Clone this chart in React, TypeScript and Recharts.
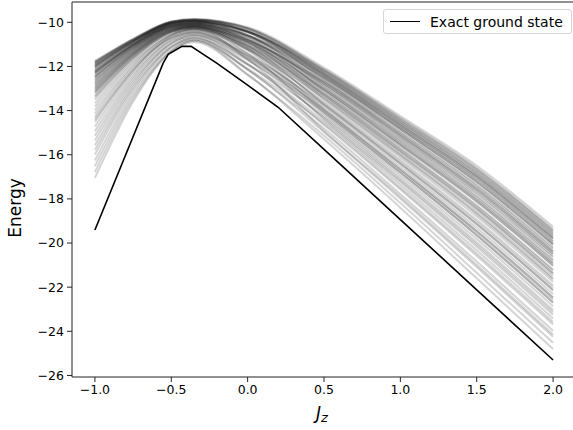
import { Label, Legend, Line, LineChart, ReferenceLine, XAxis, YAxis } from "recharts";

// coupling values where the sampled (gray) energies were read
const jzGrid = [-1, -0.75, -0.5, -0.35, 0, 0.5, 1, 1.5, 2];

const sampledEnergies: number[][] = [
  [-11.75, -10.75, -9.96, -9.87, -10.22, -12.05, -14.25, -16.5, -19.26],
  [-11.8, -10.78, -9.96, -9.85, -10.26, -12.21, -14.46, -16.76, -19.54],
  [-11.86, -10.81, -10.01, -9.92, -10.29, -12.12, -14.33, -16.6, -19.37],
  [-11.91, -10.84, -10.0, -9.89, -10.36, -12.38, -14.67, -17.01, -19.81],
  [-11.96, -10.86, -10.05, -9.96, -10.4, -12.28, -14.54, -16.86, -19.65],
  [-12.02, -10.89, -10.04, -9.94, -10.46, -12.54, -14.87, -17.27, -20.09],
  [-12.07, -10.92, -10.1, -10.0, -10.41, -12.18, -14.42, -16.7, -19.48],
  [-12.17, -10.98, -10.04, -9.91, -10.4, -12.44, -14.75, -17.11, -19.93],
  [-12.23, -11.01, -10.15, -10.05, -10.64, -12.7, -15.08, -17.52, -20.37],
  [-12.28, -11.04, -10.11, -9.98, -10.44, -12.34, -14.62, -16.96, -19.76],
  [-12.33, -11.06, -10.19, -10.09, -10.74, -12.86, -15.29, -17.78, -20.65],
  [-12.44, -11.12, -10.16, -10.03, -10.59, -12.64, -15.0, -17.42, -20.26],
  [-12.49, -11.15, -10.24, -10.14, -10.66, -12.51, -14.83, -17.21, -20.04],
  [-12.6, -11.21, -10.21, -10.07, -10.78, -13.03, -15.5, -18.03, -20.92],
  [-12.7, -11.26, -10.3, -10.18, -10.8, -12.77, -15.16, -17.62, -20.48],
  [-12.81, -11.32, -10.27, -10.11, -10.88, -13.19, -15.7, -18.29, -21.2],
  [-12.92, -11.38, -10.36, -10.22, -10.91, -12.96, -15.41, -17.93, -20.81],
  [-13.02, -11.43, -10.33, -10.16, -10.98, -13.35, -15.91, -18.54, -21.48],
  [-13.13, -11.49, -10.41, -10.27, -11.01, -13.09, -15.58, -18.13, -21.03],
  [-13.23, -11.55, -10.39, -10.2, -11.09, -13.51, -16.12, -18.8, -21.75],
  [-13.34, -11.61, -10.47, -10.31, -11.12, -13.29, -15.83, -18.44, -21.37],
  [-13.5, -11.69, -10.45, -10.25, -11.19, -13.68, -16.33, -19.05, -22.03],
  [-13.66, -11.78, -10.54, -10.36, -11.21, -13.42, -15.99, -18.64, -21.59],
  [-13.82, -11.86, -10.6, -10.4, -11.41, -13.84, -16.53, -19.31, -22.31],
  [-13.98, -11.95, -10.57, -10.33, -11.26, -13.61, -16.24, -18.95, -21.92],
  [-14.14, -12.03, -10.68, -10.46, -11.52, -14.0, -16.74, -19.56, -22.58],
  [-14.29, -12.12, -10.73, -10.51, -11.49, -13.74, -16.41, -19.15, -22.14],
  [-14.51, -12.23, -10.7, -10.42, -11.55, -14.16, -16.95, -19.82, -22.86],
  [-14.72, -12.35, -10.83, -10.57, -11.61, -13.94, -16.66, -19.46, -22.47],
  [-14.93, -12.46, -10.81, -10.49, -11.67, -14.33, -17.16, -20.07, -23.14],
  [-15.14, -12.57, -10.92, -10.62, -11.72, -14.07, -16.82, -19.66, -22.7],
  [-15.35, -12.69, -10.99, -10.68, -11.93, -14.49, -17.36, -20.33, -23.42],
  [-15.57, -12.8, -10.95, -10.58, -11.88, -14.65, -17.57, -20.58, -23.69],
  [-15.78, -12.92, -11.08, -10.73, -11.9, -14.26, -17.07, -19.97, -23.03],
  [-15.99, -13.03, -11.15, -10.79, -12.16, -14.81, -17.78, -20.84, -23.97],
  [-16.26, -13.17, -11.13, -10.71, -12.13, -14.98, -17.99, -21.09, -24.25],
  [-16.52, -13.32, -11.26, -10.84, -12.1, -14.59, -17.49, -20.48, -23.58],
  [-16.79, -13.46, -11.33, -10.9, -12.39, -15.14, -18.19, -21.35, -24.52],
  [-17.05, -13.6, -11.31, -10.82, -12.36, -15.3, -18.4, -21.6, -24.8],
  [-14.4, -12.18, -10.6, -10.29, -11.67, -14.91, -17.9, -20.99, -24.14],
  [-11.78, -10.76, -9.98, -9.88, -10.27, -12.15, -14.37, -16.65, -19.43],
  [-11.83, -10.79, -9.97, -9.86, -10.3, -12.31, -14.58, -16.91, -19.7],
  [-11.88, -10.82, -10.03, -9.94, -10.43, -12.44, -14.75, -17.11, -19.92],
  [-11.94, -10.85, -9.99, -9.87, -10.42, -12.6, -14.96, -17.37, -20.2],
  [-11.99, -10.88, -10.07, -9.98, -10.59, -12.77, -15.16, -17.62, -20.48],
  [-12.04, -10.91, -10.03, -9.92, -10.58, -12.93, -15.37, -17.88, -20.76],
  [-12.12, -10.95, -10.11, -10.02, -10.44, -12.25, -14.5, -16.81, -19.59],
  [-12.2, -10.99, -10.08, -9.96, -10.68, -13.09, -15.58, -18.13, -21.03],
  [-12.25, -11.02, -10.16, -10.07, -10.59, -12.51, -14.83, -17.21, -20.04],
  [-12.31, -11.05, -10.13, -10.0, -10.8, -13.29, -15.83, -18.44, -21.37],
  [-12.39, -11.09, -10.21, -10.11, -10.59, -12.38, -14.67, -17.01, -19.81],
  [-12.47, -11.13, -10.18, -10.05, -10.9, -13.45, -16.03, -18.69, -21.64],
  [-12.55, -11.18, -10.26, -10.16, -10.8, -12.83, -15.25, -17.72, -20.59],
  [-12.65, -11.23, -10.23, -10.09, -11.05, -13.74, -16.41, -19.15, -22.14],
  [-12.76, -11.29, -10.32, -10.2, -10.91, -13.03, -15.5, -18.03, -20.92],
  [-12.86, -11.35, -10.29, -10.14, -11.17, -13.94, -16.66, -19.46, -22.47],
  [-12.97, -11.41, -10.38, -10.25, -10.84, -12.7, -15.08, -17.52, -20.37],
  [-13.08, -11.46, -10.35, -10.18, -11.26, -14.07, -16.82, -19.66, -22.7],
  [-13.18, -11.52, -10.44, -10.29, -11.07, -13.22, -15.74, -18.34, -21.25],
  [-13.39, -11.63, -10.42, -10.22, -11.42, -14.39, -17.24, -20.17, -23.25],
];

// exact ground state (black line)
const exactJz = [-1, -0.553, -0.52, -0.43, -0.37, -0.2, 0, 0.2, 0.6, 1, 1.5, 2];
const exactEnergy = [-19.41, -11.85, -11.45, -11.09, -11.09, -11.86, -12.85, -13.85, -16.39, -18.94, -22.12, -25.3];

const xTicks = [-1, -0.5, 0, 0.5, 1, 1.5, 2];
const yTicks = [-26, -24, -22, -20, -18, -16, -14, -12, -10];

const X_DOMAIN: [number, number] = [-1.15, 2.15];
const Y_DOMAIN: [number, number] = [-26.07, -9.08];
const FONT = "DejaVu Sans, sans-serif";
const AXIS = "#222";

const minus = (s: string) => s.replace("-", "\u2212");

const sampledSeries = sampledEnergies.map((row) =>
  jzGrid.map((jz, i) => ({ jz, energy: row[i] }))
);
const exactSeries = exactJz.map((jz, i) => ({ jz, energy: exactEnergy[i] }));

function LegendBox() {
  return (
    <div
      style={{
        boxSizing: "border-box",
        width: 189,
        height: 25,
        border: "1px solid #d6d6d6",
        borderRadius: 3,
        background: "rgba(255,255,255,0.85)",
        display: "flex",
        alignItems: "center",
        fontFamily: FONT,
        fontSize: 14,
        color: "#000",
      }}
    >
      <span style={{ display: "inline-block", width: 30, height: 0, borderTop: "1.5px solid #000", marginLeft: 6, marginRight: 10 }} />
      <span>Exact ground state</span>
    </div>
  );
}

export default function App() {
  return (
    <div style={{ position: "absolute", left: 0, top: 0, width: 573, height: 430, overflow: "hidden", background: "#fff" }}>
      <LineChart width={577} height={430} margin={{ top: 2, right: 1, bottom: 0, left: 0 }}>
        <XAxis
          dataKey="jz"
          type="number"
          domain={X_DOMAIN}
          ticks={xTicks}
          allowDataOverflow
          height={53}
          tickSize={5}
          tickMargin={3}
          stroke={AXIS}
          tick={{ fill: "#000", fontSize: 12.5, fontFamily: FONT }}
          tickFormatter={(v: number) => minus(v.toFixed(1))}
          label={
            <Label
              content={() => (
                <text x={322} y={419} textAnchor="middle" fontFamily={FONT} fontStyle="italic" fontSize={17} fill="#000">
                  J<tspan fontSize={13} dy={3}>z</tspan>
                </text>
              )}
            />
          }
        />
        <YAxis
          type="number"
          domain={Y_DOMAIN}
          ticks={yTicks}
          allowDataOverflow
          width={72}
          tickSize={5}
          tickMargin={3}
          stroke={AXIS}
          tick={{ fill: "#000", fontSize: 12.5, fontFamily: FONT }}
          tickFormatter={(v: number) => minus(String(v))}
          label={
            <Label
              content={() => (
                <text
                  x={21}
                  y={208}
                  transform="rotate(-90 21 208)"
                  textAnchor="middle"
                  fontFamily={FONT}
                  fontSize={17}
                  fill="#000"
                >
                  Energy
                </text>
              )}
            />
          }
        />
        <ReferenceLine y={Y_DOMAIN[1]} stroke={AXIS} strokeWidth={1} />
        {sampledSeries.map((data, i) => (
          <Line
            key={i}
            data={data}
            dataKey="energy"
            type="monotone"
            stroke="#000"
            strokeOpacity={0.17}
            strokeWidth={2}
            dot={false}
            activeDot={false}
            legendType="none"
            isAnimationActive={false}
          />
        ))}
        <Line
          data={exactSeries}
          dataKey="energy"
          name="Exact ground state"
          type="linear"
          stroke="#000"
          strokeWidth={1.6}
          dot={false}
          activeDot={false}
          isAnimationActive={false}
        />
        <Legend
          layout="vertical"
          align="center"
          verticalAlign="middle"
          wrapperStyle={{ left: 383, top: 9, width: 189, height: 25 }}
          content={() => <LegendBox />}
        />
      </LineChart>
    </div>
  );
}
